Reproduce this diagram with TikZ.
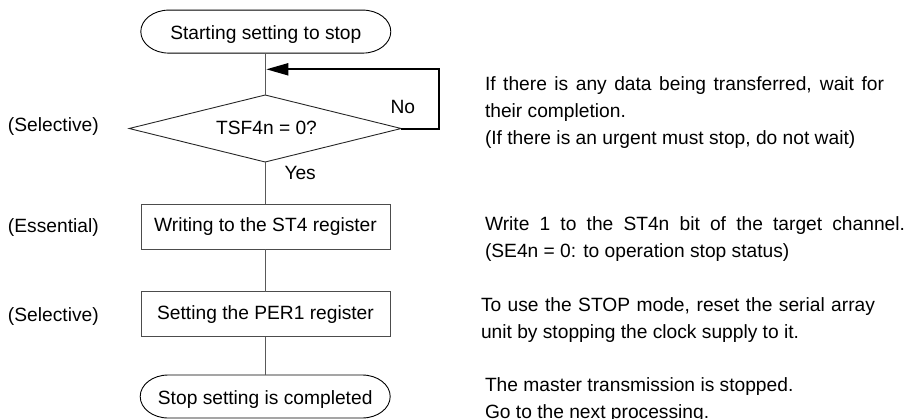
\documentclass[tikz,border=0pt]{standalone}
\usepackage{fontspec}
\setmainfont{Liberation Sans}
\usetikzlibrary{shapes.geometric,arrows.meta}
\begin{document}
\begin{tikzpicture}[x=1pt,y=1pt,
  ftext/.style={font=\fontsize{19.2pt}{27pt}\selectfont, inner sep=0pt, outer sep=0pt},
  termnode/.style={minimum width=250pt, minimum height=43pt, inner sep=0pt, outer sep=0pt},
  termline/.style={draw=black, line width=0.9pt},
  stepbox/.style={draw=black!70, line width=0.9pt, minimum width=249pt, minimum height=44.7pt, inner sep=0pt, outer sep=0pt},
  decision/.style={draw=black!85, line width=0.9pt, shape=diamond, minimum width=272pt, minimum height=67pt, inner sep=0pt, outer sep=0pt},
  conn/.style={draw=black!65, line width=0.9pt},
  loopline/.style={draw=black, line width=2pt, line join=miter, -{Triangle[length=22pt,width=12pt]}}
]
\useasboundingbox (0,0) rectangle (907,-418);

% flow shapes
\node[termnode] (st) at (265.8,-31.6) {};
\draw[termline] ([xshift=28pt]st.north west) -- ([xshift=-28pt]st.north east)
  arc[start angle=90, end angle=-90, x radius=28pt, y radius=21.5pt]
  -- ([xshift=28pt]st.south west)
  arc[start angle=270, end angle=90, x radius=28pt, y radius=21.5pt] -- cycle;
\node[ftext, anchor=base] (stt) at (265.8,-39.3) {Starting setting to stop};

\node[decision] (d) at (265.2,-128.5) {};
\node[ftext, anchor=base] (dt) at (266.5,-134.3) {TSF4n = 0?};

\node[stepbox] (b1) at (265.5,-226.7) {};
\node[ftext, anchor=base] (b1t) at (265.5,-231.8) {Writing to the ST4 register};

\node[stepbox] (b2) at (265.5,-314.2) {};
\node[ftext, anchor=base] (b2t) at (265.5,-319.5) {Setting the PER1 register};

\node[termnode] (en) at (265.2,-396.5) {};
\draw[termline] ([xshift=28pt]en.north west) -- ([xshift=-28pt]en.north east)
  arc[start angle=90, end angle=-90, x radius=28pt, y radius=21.5pt]
  -- ([xshift=28pt]en.south west)
  arc[start angle=270, end angle=90, x radius=28pt, y radius=21.5pt] -- cycle;
\node[ftext, anchor=base] (ent) at (265.2,-404) {Stop setting is completed};

% connectors
\draw[conn] (st.south -| d.north) -- (d.north);
\draw[conn] (d.south) -- (d.south |- b1.north);
\draw[conn] (b1.south -| d.south) -- (b2.north -| d.south);
\draw[conn] (b2.south -| d.south) -- (en.north -| d.south);

\coordinate (lp) at (266.3,-69.3);
\coordinate (lr) at (439.3,-69.3);
\draw[loopline] (d.east) -| (lr) -- (lp);

\node[ftext, anchor=base west] (no) at (390.5,-113.3) {No};
\node[ftext, anchor=base west] (yes) at (284.5,-179.3) {Yes};

% left labels
\node[ftext, anchor=base west] (l1) at (8,-131) {(Selective)};
\node[ftext, anchor=base west] (l2) at (8,-232.7) {(Essential)};
\node[ftext, anchor=base west] (l3) at (8,-321.7) {(Selective)};

% right notes
\node[ftext, anchor=base west] (r1a) at (485,-90) {\hbox to 399pt{If there is any data being transferred, wait for}};
\node[ftext, anchor=base west] (r1b) at (485,-117) {their completion.};
\node[ftext, anchor=base west] (r1c) at (485,-144) {(If there is an urgent must stop, do not wait)};

\node[ftext, anchor=base west] (r2a) at (485,-230) {\hbox to 420pt{Write 1 to the ST4n bit of the target channel.}};
\node[ftext, anchor=base west] (r2b) at (485,-257) {(SE4n = 0: to operation stop status)};

\node[ftext, anchor=base west] (r3a) at (481,-311) {\hbox to 394pt{To use the STOP mode, reset the serial array}};
\node[ftext, anchor=base west] (r3b) at (481,-338) {unit by stopping the clock supply to it.};

\node[ftext, anchor=base west] (r4a) at (485,-391) {The master transmission is stopped.};
\node[ftext, anchor=base west] (r4b) at (485,-418) {Go to the next processing.};
\end{tikzpicture}
\end{document}
